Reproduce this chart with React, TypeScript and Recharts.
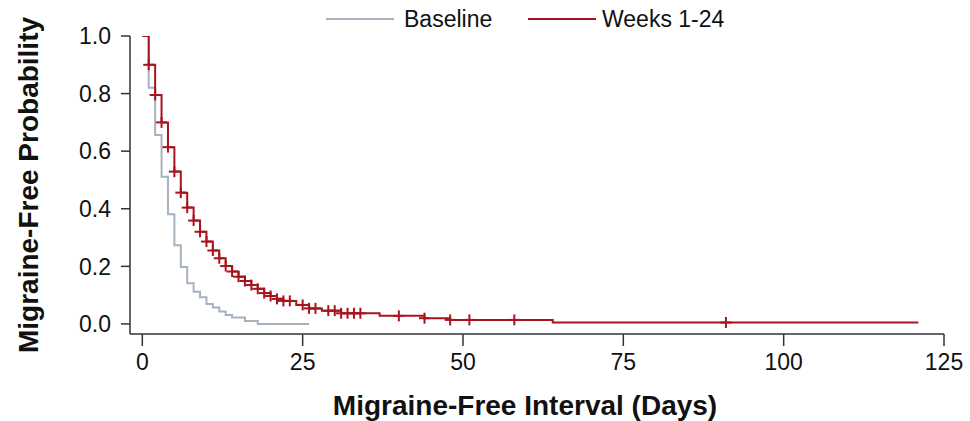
import React from "react";
import { ComposedChart, Line, Scatter, XAxis, YAxis, Legend } from "recharts";

const baselineDays = [0, 1, 2, 3, 4, 5, 6, 7, 8, 9, 10, 11, 12, 13, 14, 16, 18, 26];
const baselineProb = [1.0, 0.82, 0.656, 0.511, 0.381, 0.273, 0.198, 0.141, 0.112, 0.093, 0.069, 0.057, 0.043, 0.031, 0.022, 0.01, 0.0, 0.0];

const weeksDays = [0, 1, 2, 3, 4, 5, 6, 7, 8, 9, 10, 11, 12, 13, 14, 15, 16, 17, 18, 19, 20, 21, 22, 24, 26, 28, 31, 37, 44, 48, 64, 121];
const weeksProb = [1.0, 0.9, 0.795, 0.7, 0.614, 0.529, 0.456, 0.404, 0.359, 0.32, 0.286, 0.255, 0.228, 0.201, 0.182, 0.164, 0.149, 0.135, 0.122, 0.107, 0.097, 0.087, 0.08, 0.066, 0.054, 0.046, 0.037, 0.028, 0.02, 0.014, 0.005, 0.005];

const censorDays = [1, 2, 3, 4, 5, 6, 7, 8, 9, 10, 11, 12, 13, 14, 15, 16, 17, 18, 19, 20, 21, 22, 23, 25, 26, 27, 29, 30, 31, 32, 33, 34, 40, 44, 48, 51, 58, 91];
const censorProb = [0.9, 0.795, 0.7, 0.614, 0.529, 0.456, 0.404, 0.359, 0.32, 0.286, 0.255, 0.228, 0.201, 0.182, 0.164, 0.149, 0.135, 0.122, 0.107, 0.097, 0.087, 0.08, 0.08, 0.066, 0.054, 0.054, 0.046, 0.046, 0.037, 0.037, 0.037, 0.037, 0.028, 0.02, 0.014, 0.014, 0.014, 0.005];

const xTicks = [0, 25, 50, 75, 100, 125];
const yTicks = [0, 0.2, 0.4, 0.6, 0.8, 1.0];

const seriesNames = ["Baseline", "Weeks 1-24"];
const GRAY = "#a7b2bf";
const RED = "#a8141e";
const FONT = "'Liberation Sans', Arial, Helvetica, sans-serif";

const baselineData = baselineDays.map((d, i) => ({ day: d, p: baselineProb[i] }));
const weeksData = weeksDays.map((d, i) => ({ day: d, p: weeksProb[i] }));
const censorData = censorDays.map((d, i) => ({ day: d, p: censorProb[i] }));

const CrossShape = (props: any) => {
  const { cx, cy } = props;
  if (cx == null || cy == null) return null;
  const h = 5.5;
  return (
    <g>
      <line x1={cx - h} y1={cy} x2={cx + h} y2={cy} stroke={RED} strokeWidth={2} />
      <line x1={cx} y1={cy - h} x2={cx} y2={cy + h} stroke={RED} strokeWidth={2} />
    </g>
  );
};

const LegendContent = () => (
  <svg width={970} height={36} style={{ display: "block" }}>
    <line x1={326} y1={19} x2={394} y2={19} stroke={GRAY} strokeWidth={2} />
    <text x={404} y={27} fontFamily={FONT} fontSize={23} fill="#111">{seriesNames[0]}</text>
    <line x1={528} y1={19} x2={596} y2={19} stroke={RED} strokeWidth={2} />
    <text x={602} y={27} fontFamily={FONT} fontSize={23} fill="#111">{seriesNames[1]}</text>
  </svg>
);

const YLabel = (props: any) => {
  const vb = props.viewBox || {};
  const cx = 28;
  const cy = (vb.y ?? 36) + (vb.height ?? 298) / 2;
  return (
    <text x={cx} y={cy} transform={`rotate(-90, ${cx}, ${cy})`} textAnchor="middle" dominantBaseline="central"
      fontFamily={FONT} fontSize={28} fontWeight="bold" fill="#111">
      Migraine-Free Probability
    </text>
  );
};

const XLabel = () => (
  <text x={525} y={405} textAnchor="middle" dominantBaseline="central" fontFamily={FONT} fontSize={28} fontWeight="bold" fill="#111">
    Migraine-Free Interval (Days)
  </text>
);

export default function App() {
  return (
    <div style={{ position: "absolute", left: 0, top: 0, width: 970, height: 421, background: "#fff" }}>
      <ComposedChart width={970} height={421} margin={{ top: 0, right: 26, left: 0, bottom: 0 }}>
        <Legend verticalAlign="top" content={LegendContent as any} height={36}
          wrapperStyle={{ position: "absolute", top: 0, left: 0, width: 970, height: 36 }} />
        <XAxis dataKey="day" type="number" domain={[-1.92, 125]} ticks={xTicks} allowDataOverflow
          height={87} tickSize={12} tickMargin={8}
          tick={{ fontFamily: FONT, fontSize: 23, fill: "#111" }}
          axisLine={{ stroke: "#333", strokeWidth: 1.5 }} tickLine={{ stroke: "#333", strokeWidth: 1.5 }}
          label={<XLabel />} />
        <YAxis type="number" domain={[-0.035, 1]} ticks={yTicks} allowDataOverflow width={130}
          tickSize={9} tickMargin={10} tickFormatter={(v: number) => v.toFixed(1)}
          tick={{ fontFamily: FONT, fontSize: 23, fill: "#111" }}
          axisLine={{ stroke: "#333", strokeWidth: 1.5 }} tickLine={{ stroke: "#333", strokeWidth: 1.5 }}
          label={<YLabel />} />
        <Line data={baselineData} dataKey="p" type="stepAfter" stroke={GRAY} strokeWidth={2} dot={false}
          isAnimationActive={false} name={seriesNames[0]} />
        <Line data={weeksData} dataKey="p" type="stepAfter" stroke={RED} strokeWidth={2} dot={false}
          isAnimationActive={false} name={seriesNames[1]} />
        <Scatter data={censorData} dataKey="p" shape={CrossShape} isAnimationActive={false} legendType="none" />
      </ComposedChart>
    </div>
  );
}
